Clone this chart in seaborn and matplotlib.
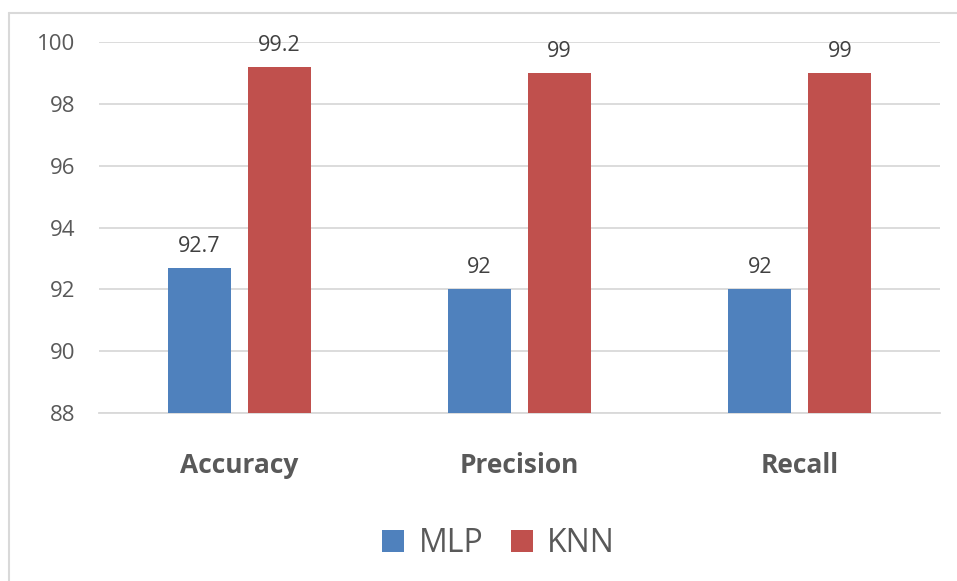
import pandas as pd
import matplotlib.pyplot as plt
import seaborn as sns
from matplotlib.lines import Line2D

# values
metrics = ['Accuracy', 'Precision', 'Recall']
mlp_scores = [92.7, 92, 92]
knn_scores = [99.2, 99, 99]
models = ['MLP', 'KNN']
y_ticks = [88, 90, 92, 94, 96, 98, 100]

df = pd.DataFrame({
    'metric': metrics * 2,
    'model': ['MLP'] * len(metrics) + ['KNN'] * len(metrics),
    'score': mlp_scores + knn_scores,
})

sns.set_style('white')
plt.rcParams['font.family'] = ['Open Sans', 'DejaVu Sans']

fig = plt.figure(figsize=(9.57, 5.81), dpi=100)
ax = fig.add_axes([99 / 957, 1 - 413 / 581, 841 / 957, 371 / 581])

colors = {'MLP': '#4F81BD', 'KNN': '#C0504D'}
sns.barplot(data=df, x='metric', y='score', hue='model', hue_order=models,
            palette=colors, saturation=1, width=0.57, gap=0.21, ax=ax,
            legend=False, linewidth=0)

ax.set_ylim(88, 100)
ax.set_xlim(-0.5, 2.5)
ax.set_yticks(y_ticks)
ax.set_yticklabels([str(t) for t in y_ticks], fontsize=16, color='#595959')
ax.tick_params(axis='y', length=0, pad=17)
ax.tick_params(axis='x', length=0, pad=28)
for lbl in ax.get_xticklabels():
    lbl.set_fontsize(19)
    lbl.set_fontweight('bold')
    lbl.set_color('#595959')
ax.set_xlabel('')
ax.set_ylabel('')
ax.grid(axis='y', color='#D9D9D9', linewidth=1.3)
ax.set_axisbelow(True)
for s in ['left', 'right', 'top']:
    ax.spines[s].set_visible(False)
ax.spines['bottom'].set_color('#D9D9D9')
ax.spines['bottom'].set_linewidth(1.3)
ax.spines['bottom'].set_zorder(0.5)

# data labels
for cont in ax.containers:
    ax.bar_label(cont, labels=[f'{v:g}' for v in cont.datavalues],
                 padding=8, fontsize=15.5, color='#404040')

# legend below the plot
handles = [Line2D([], [], marker='s', linestyle='', markersize=16,
                  markerfacecolor=colors[m], markeredgewidth=0) for m in models]
fig.legend(handles, models, loc='center', bbox_to_anchor=(496 / 957, 1 - 544 / 581),
           ncol=2, frameon=False, fontsize=23, labelcolor='#595959',
           handletextpad=0.3, columnspacing=0.7, handlelength=1.0)

# chart frame (left and top edges visible)
fig.add_artist(Line2D([9 / 957, 9 / 957], [0, 1 - 13 / 581], color='#D9D9D9', linewidth=1.5))
fig.add_artist(Line2D([9 / 957, 1], [1 - 13 / 581, 1 - 13 / 581], color='#D9D9D9', linewidth=1.5))

fig.savefig('out.png', dpi=100)
